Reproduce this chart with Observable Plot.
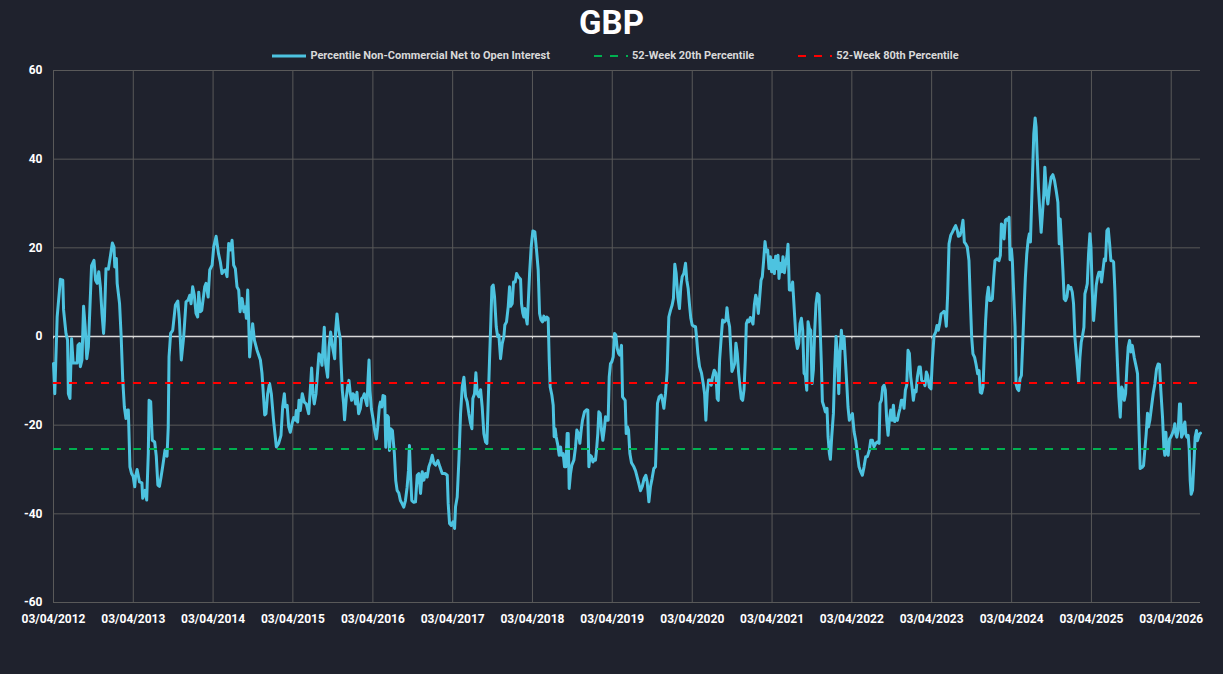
<!DOCTYPE html>
<html>
<head>
<meta charset="utf-8">
<script src="https://cdn.jsdelivr.net/npm/d3@7"></script>
<script src="https://cdn.jsdelivr.net/npm/@observablehq/plot@0.6"></script>
<style>
  html, body { margin: 0; padding: 0; background: #1f222d; }
  #wrap { position: relative; width: 1223px; height: 674px; background: #1f222d; overflow: hidden; font-family: Roboto, "Liberation Sans", sans-serif; }
  #title { position: absolute; top: 3px; left: 0; width: 1223px; text-align: center; color: #ffffff; font-weight: bold; font-size: 33px; line-height: 40px; }
  #legend { position: absolute; top: 48px; left: 0; width: 1223px; display: flex; justify-content: center; gap: 44px; color: #d9d9d9; font-weight: bold; font-size: 11px; line-height: 16px; padding-left: 8px; box-sizing: border-box; }
  .item { display: flex; align-items: center; gap: 4px; }
  #chart { position: absolute; top: 62px; left: 0; }
</style>
</head>
<body>
<div id="wrap">
  <div id="title"></div>
  <div id="legend"></div>
  <div id="chart"></div>
</div>
<script>
// ---- data ----
const chartTitle = "GBP";
const seriesNames = ["Percentile Non-Commercial Net to Open Interest", "52-Week 20th Percentile", "52-Week 80th Percentile"];
const seriesColors = ["#4dc3e0", "#00b050", "#ff0000"];
const tickLabels = ["03/04/2012","03/04/2013","03/04/2014","03/04/2015","03/04/2016","03/04/2017","03/04/2018","03/04/2019","03/04/2020","03/04/2021","03/04/2022","03/04/2023","03/04/2024","03/04/2025","03/04/2026"];
const yTicks = [-60, -40, -20, 0, 20, 40, 60];
const percentile20 = -25.4;
const percentile80 = -10.5;
// [decimal year, value]
const netToOI = [
[2012.254,-6.1],[2012.27,-12.9],[2012.30,4.4],[2012.34,12.9],[2012.37,12.7],[2012.38,6],[2012.41,0.7],[2012.43,-0.8],[2012.44,-12.9],[2012.46,-14],
[2012.48,-0.5],[2012.50,-6],[2012.55,-6],[2012.56,-2],[2012.58,-1.6],[2012.59,-6.8],[2012.61,-5.3],[2012.63,6.8],[2012.65,2.2],[2012.67,-5],
[2012.69,-2.3],[2012.73,16],[2012.76,17.2],[2012.78,12.7],[2012.80,12],[2012.82,14.6],[2012.84,11.2],[2012.86,5.2],[2012.88,0.7],[2012.89,3.7],
[2012.91,15.3],[2012.94,15.2],[2012.97,18.7],[2012.99,21.1],[2013.01,20.2],[2013.02,15.7],[2013.04,17.6],[2013.05,12],[2013.08,7.4],[2013.10,0],
[2013.12,-9.8],[2013.14,-15.9],[2013.16,-18.5],[2013.18,-16.6],[2013.19,-16.6],[2013.21,-29.4],[2013.23,-30.9],[2013.25,-31.5],[2013.27,-33.9],[2013.28,-31.6],
[2013.30,-30],[2013.33,-32.8],[2013.36,-33],[2013.37,-36.5],[2013.40,-34.7],[2013.42,-36.9],[2013.44,-26.4],[2013.45,-14.4],[2013.47,-14.7],[2013.49,-23.4],
[2013.52,-23.8],[2013.54,-27],[2013.56,-33.5],[2013.58,-33.8],[2013.60,-31.7],[2013.62,-29.4],[2013.65,-25.6],[2013.675,-27],[2013.69,-20.4],[2013.70,-4.6],
[2013.72,0.7],[2013.746,1.4],[2013.78,7.1],[2013.81,8],[2013.83,3.7],[2013.854,-5.3],[2013.884,0],[2013.913,7.8],[2013.938,8.2],[2013.96,9.3],
[2013.976,7.4],[2013.996,11.2],[2014.017,9.3],[2014.038,5.2],[2014.059,4.4],[2014.072,10],[2014.093,5.6],[2014.11,5.9],[2014.147,11.2],[2014.164,12],
[2014.19,8.9],[2014.21,15],[2014.24,16.1],[2014.26,20.2],[2014.29,22.6],[2014.32,18.7],[2014.343,16.8],[2014.364,14.2],[2014.385,14.8],[2014.406,15],
[2014.427,13.5],[2014.448,21],[2014.469,19.5],[2014.49,21.7],[2014.51,16.1],[2014.531,15.3],[2014.552,11.2],[2014.573,10.5],[2014.59,5.6],[2014.615,8.6],
[2014.64,5.6],[2014.656,6.7],[2014.669,4.1],[2014.686,10.5],[2014.698,3.7],[2014.71,-4.6],[2014.73,-0.8],[2014.748,2.9],[2014.77,-0.8],[2014.803,-3.1],
[2014.845,-5.3],[2014.865,-8.3],[2014.882,-12.9],[2014.899,-17.7],[2014.915,-17.4],[2014.936,-12.9],[2014.96,-10.6],[2014.982,-12.9],[2015.01,-18.9],[2015.045,-24.9],
[2015.074,-24.1],[2015.103,-22.3],[2015.124,-15.9],[2015.145,-12.9],[2015.158,-15.9],[2015.18,-15.5],[2015.2,-20.4],[2015.22,-21.6],[2015.241,-19.7],[2015.262,-18.3],
[2015.283,-18.9],[2015.295,-16.7],[2015.312,-19.3],[2015.329,-14.4],[2015.345,-16.7],[2015.37,-12.9],[2015.395,-14.8],[2015.42,-15.2],[2015.45,-17.4],[2015.47,-12.2],
[2015.487,-7.1],[2015.504,-12.9],[2015.52,-15.2],[2015.542,-12.9],[2015.563,-7.7],[2015.579,-3.9],[2015.596,-4.3],[2015.617,-6.5],[2015.63,-2.4],[2015.646,2.1],
[2015.663,-6.2],[2015.688,-9.2],[2015.705,-2.4],[2015.725,1],[2015.746,-2],[2015.776,-5],[2015.788,1.4],[2015.805,5.1],[2015.826,1.4],[2015.847,-0.5],
[2015.855,-5.4],[2015.872,-12.2],[2015.888,-15.2],[2015.9,-18.8],[2015.922,-13.7],[2015.938,-11.4],[2015.955,-9.9],[2015.972,-12.9],[2015.989,-14.4],[2016.005,-12.9],
[2016.022,-13.3],[2016.039,-15.2],[2016.055,-12.6],[2016.076,-17.4],[2016.097,-16.3],[2016.114,-14],[2016.131,-13.7],[2016.147,-12.9],[2016.164,-14.4],[2016.181,-15.6],
[2016.193,-9.9],[2016.206,-5.3],[2016.218,-12.2],[2016.235,-16.3],[2016.256,-18.5],[2016.277,-21.2],[2016.298,-23.1],[2016.314,-20.5],[2016.335,-15.9],[2016.348,-14.8],
[2016.365,-15.9],[2016.381,-13.3],[2016.402,-13.5],[2016.415,-25],[2016.432,-17.8],[2016.448,-18.2],[2016.461,-25.7],[2016.477,-20.8],[2016.498,-21.2],[2016.523,-26.5],
[2016.54,-32.5],[2016.557,-34.7],[2016.578,-35.3],[2016.598,-37],[2016.619,-37.7],[2016.64,-38.5],[2016.661,-37],[2016.682,-34],[2016.699,-30.2],[2016.711,-24.6],
[2016.724,-30.9],[2016.74,-37],[2016.766,-37.4],[2016.787,-37.3],[2016.808,-31.3],[2016.829,-30.9],[2016.85,-35.4],[2016.871,-30.5],[2016.891,-32.4],[2016.912,-30.9],
[2016.933,-31.7],[2016.954,-29.4],[2016.975,-28.3],[2016.996,-26.8],[2017.017,-28.6],[2017.038,-29],[2017.067,-28],[2017.092,-29.4],[2017.121,-30.9],[2017.155,-30.9],
[2017.184,-31.3],[2017.196,-37.7],[2017.213,-42.2],[2017.234,-42.6],[2017.255,-41.8],[2017.276,-43.3],[2017.288,-38.4],[2017.309,-36.2],[2017.33,-27.9],[2017.351,-17.4],
[2017.372,-11.4],[2017.393,-9.2],[2017.414,-13.6],[2017.434,-14.7],[2017.455,-17.4],[2017.476,-19.6],[2017.493,-20.8],[2017.505,-14],[2017.526,-12.9],[2017.543,-8.2],
[2017.56,-12.9],[2017.581,-13.6],[2017.602,-12],[2017.622,-15.9],[2017.643,-21.9],[2017.664,-23.8],[2017.681,-24.1],[2017.698,-14.4],[2017.714,-5.3],[2017.731,3.7],
[2017.744,11.2],[2017.76,11.6],[2017.777,8.9],[2017.798,2.2],[2017.815,0],[2017.831,0.3],[2017.852,-5],[2017.873,-1.6],[2017.894,0],[2017.906,2.6],
[2017.927,3.3],[2017.948,6.7],[2017.965,11.2],[2017.977,6.8],[2017.998,7.4],[2018.015,12.3],[2018.036,12.3],[2018.053,14.2],[2018.074,13.5],[2018.103,12.9],
[2018.115,7.4],[2018.132,5.2],[2018.145,4.4],[2018.157,6.3],[2018.17,4.4],[2018.186,2.8],[2018.199,7.4],[2018.216,14.2],[2018.236,20.2],[2018.257,23.8],
[2018.282,23.6],[2018.303,19.5],[2018.324,15],[2018.341,5.2],[2018.358,3.8],[2018.378,3.3],[2018.395,4.6],[2018.411,3.7],[2018.432,4.4],[2018.449,4.1],
[2018.462,-5.3],[2018.474,-11.4],[2018.495,-13.2],[2018.512,-15.5],[2018.524,-22.6],[2018.537,-20.8],[2018.549,-22.6],[2018.57,-24.5],[2018.587,-26.8],[2018.604,-24.9],
[2018.616,-26.8],[2018.637,-26.4],[2018.654,-29.4],[2018.67,-29.4],[2018.687,-21.9],[2018.7,-21.9],[2018.712,-34.3],[2018.729,-30.9],[2018.746,-29],[2018.771,-27.9],
[2018.792,-24.9],[2018.808,-21.1],[2018.829,-21.9],[2018.846,-24.1],[2018.863,-21.1],[2018.879,-18.9],[2018.904,-17],[2018.93,-16.5],[2018.946,-16.6],[2018.959,-29.4],
[2018.975,-26.8],[2018.992,-27.1],[2019.009,-28.3],[2019.026,-27.7],[2019.042,-27.9],[2019.055,-25.6],[2019.071,-21.9],[2019.084,-17],[2019.101,-17.4],[2019.117,-21.1],
[2019.134,-23.4],[2019.151,-21.1],[2019.168,-18.1],[2019.184,-18.9],[2019.201,-18.9],[2019.214,-9.1],[2019.23,-6.1],[2019.247,-5.7],[2019.264,-4.6],[2019.281,0.7],
[2019.297,0.3],[2019.314,-2.7],[2019.331,-3.8],[2019.347,-4.2],[2019.368,-2],[2019.381,-13.6],[2019.397,-14],[2019.414,-14.4],[2019.427,-21.9],[2019.443,-20.4],
[2019.456,-21.1],[2019.473,-26.4],[2019.493,-28.5],[2019.523,-29.4],[2019.544,-30.3],[2019.564,-31.7],[2019.585,-33.2],[2019.606,-34.8],[2019.627,-33.9],[2019.652,-32],
[2019.673,-31.3],[2019.69,-32.8],[2019.711,-37.3],[2019.731,-33.9],[2019.752,-32],[2019.773,-29.8],[2019.794,-29.4],[2019.807,-22.6],[2019.819,-15.1],[2019.84,-13.6],
[2019.865,-13.2],[2019.882,-14.4],[2019.899,-16.2],[2019.919,-12.9],[2019.94,-8],[2019.961,4.4],[2019.982,5.9],[2020.003,7.1],[2020.019,8.6],[2020.036,16.3],
[2020.053,14.2],[2020.074,8.9],[2020.094,6.3],[2020.111,11.2],[2020.128,13.5],[2020.149,14.2],[2020.17,16.5],[2020.186,12.7],[2020.203,10.8],[2020.22,7.1],
[2020.236,4.1],[2020.253,2.6],[2020.274,2.3],[2020.295,2.2],[2020.307,0],[2020.324,-3.8],[2020.345,-6.8],[2020.37,-8.3],[2020.391,-10.6],[2020.408,-12.9],
[2020.424,-18.9],[2020.441,-12.9],[2020.458,-9.8],[2020.475,-9.8],[2020.491,-11],[2020.508,-9.1],[2020.529,-7.6],[2020.55,-8.3],[2020.566,-14],[2020.579,-14.4],
[2020.596,-5.3],[2020.617,0],[2020.633,3.7],[2020.654,3.3],[2020.675,3.7],[2020.688,6.5],[2020.704,3.7],[2020.721,2.2],[2020.738,-3.8],[2020.75,-7.9],
[2020.767,-7.1],[2020.784,-6.1],[2020.8,-1.5],[2020.817,-3.8],[2020.834,-8.3],[2020.851,-11.4],[2020.867,-14],[2020.884,-14.4],[2020.901,-12],[2020.917,-5.3],
[2020.93,2.9],[2020.947,3.7],[2020.963,3.3],[2020.98,4.3],[2020.997,3.7],[2021.013,2.8],[2021.03,7.1],[2021.047,9.3],[2021.064,8.2],[2021.08,5.2],
[2021.097,8.9],[2021.114,12.7],[2021.13,13.5],[2021.147,17.2],[2021.164,21.4],[2021.18,19.1],[2021.197,19.5],[2021.214,15.3],[2021.231,18],[2021.247,14.6],
[2021.264,17.2],[2021.281,14.2],[2021.297,18.1],[2021.314,15.3],[2021.327,18.3],[2021.339,13.1],[2021.356,16.5],[2021.373,14.6],[2021.389,18],[2021.406,14.4],
[2021.423,16.5],[2021.44,18.3],[2021.452,20.8],[2021.469,10.5],[2021.49,10.5],[2021.51,12.3],[2021.536,4.4],[2021.553,-0.8],[2021.57,-2.7],[2021.586,-1.6],
[2021.603,2.9],[2021.62,4.1],[2021.636,1.5],[2021.653,-8.3],[2021.67,-8.7],[2021.687,-12.1],[2021.703,3.3],[2021.72,1.8],[2021.737,1.4],[2021.753,-10.6],
[2021.77,-7.6],[2021.787,1.4],[2021.803,7.4],[2021.82,9.7],[2021.841,9.3],[2021.854,2.3],[2021.87,-6.1],[2021.883,-14.7],[2021.904,-15.9],[2021.92,-17],
[2021.941,-16.2],[2021.954,-22.6],[2021.971,-26.4],[2021.983,-27.7],[2022.0,-22.6],[2022.021,-17.4],[2022.037,-7.5],[2022.054,0],[2022.071,-3.8],[2022.088,-12.9],
[2022.104,-3.8],[2022.121,1.4],[2022.138,-2.7],[2022.154,0],[2022.171,-5.3],[2022.188,-10.5],[2022.204,-15.9],[2022.221,-18.9],[2022.238,-18.1],[2022.259,-17.4],
[2022.28,-21.5],[2022.3,-23.4],[2022.321,-26.4],[2022.342,-29.4],[2022.363,-30.5],[2022.384,-31.3],[2022.405,-29.4],[2022.426,-27.1],[2022.447,-27.1],[2022.472,-25.6],
[2022.489,-23.4],[2022.509,-23.4],[2022.53,-24.9],[2022.551,-24.1],[2022.572,-23.8],[2022.593,-24.1],[2022.605,-15.1],[2022.622,-14.4],[2022.639,-11.4],[2022.656,-11],
[2022.672,-12.1],[2022.689,-18.9],[2022.706,-22.3],[2022.722,-18.9],[2022.739,-16.6],[2022.756,-18.9],[2022.773,-15.5],[2022.789,-19.2],[2022.806,-18.5],[2022.823,-18.9],
[2022.839,-17.4],[2022.856,-16.2],[2022.873,-14.4],[2022.89,-14.4],[2022.906,-16.2],[2022.923,-12.1],[2022.94,-11],[2022.956,-3.1],[2022.973,-3.8],[2022.99,-9.1],
[2023.006,-11.4],[2023.023,-14.4],[2023.04,-12.1],[2023.057,-12.5],[2023.073,-9.2],[2023.094,-6.9],[2023.11,-6.9],[2023.127,-9.9],[2023.156,-10.3],[2023.169,-11.1],
[2023.186,-8],[2023.202,-8.8],[2023.223,-11.4],[2023.244,-11.8],[2023.261,-5.4],[2023.282,0.2],[2023.303,1],[2023.319,2.5],[2023.336,1.4],[2023.353,2.9],
[2023.37,5.1],[2023.386,5.3],[2023.407,5.7],[2023.42,5.1],[2023.436,2.3],[2023.453,9.6],[2023.47,20.9],[2023.491,22.8],[2023.511,23.5],[2023.532,24.3],
[2023.553,25],[2023.574,23.9],[2023.587,22.6],[2023.608,22.8],[2023.624,23.9],[2023.645,26.2],[2023.662,21.3],[2023.679,20.9],[2023.699,20.2],[2023.72,17.1],
[2023.737,8.1],[2023.754,-0.2],[2023.77,-3.9],[2023.791,-4.7],[2023.808,-6.2],[2023.829,-8.4],[2023.846,-7.7],[2023.862,-12.6],[2023.879,-12.8],[2023.896,-11.4],
[2023.912,-3.9],[2023.929,3.6],[2023.946,8.9],[2023.963,11.1],[2023.98,8.1],[2023.996,8.1],[2024.013,8.5],[2024.03,13.4],[2024.046,17.1],[2024.071,17.5],
[2024.096,17.1],[2024.113,18.3],[2024.126,25.4],[2024.142,25],[2024.159,22],[2024.176,26.2],[2024.192,26.5],[2024.209,26.2],[2024.222,26.9],[2024.234,17.3],
[2024.251,19.8],[2024.263,17.1],[2024.28,9.6],[2024.297,2.1],[2024.309,-10.7],[2024.326,-11.8],[2024.343,-12.2],[2024.359,-9.5],[2024.376,-8.8],[2024.393,-1.3],
[2024.41,6.6],[2024.426,13.4],[2024.443,18.6],[2024.46,21.7],[2024.476,23.2],[2024.489,21.3],[2024.501,28.4],[2024.514,35.9],[2024.531,45.7],[2024.548,49.3],
[2024.56,47.2],[2024.572,41.2],[2024.589,33.7],[2024.606,28.4],[2024.623,23.5],[2024.639,27.7],[2024.656,32.2],[2024.669,38.2],[2024.69,32.2],[2024.707,29.9],
[2024.728,33.7],[2024.748,35.9],[2024.769,36.5],[2024.79,35.2],[2024.811,32.9],[2024.832,30.3],[2024.849,20.9],[2024.861,26.5],[2024.878,20.9],[2024.895,14.9],
[2024.911,8.5],[2024.928,8.1],[2024.945,8.9],[2024.962,11.5],[2024.978,10.8],[2024.995,11.1],[2025.012,10],[2025.028,7.4],[2025.045,-0.2],[2025.062,-3.9],
[2025.078,-7.3],[2025.091,-10.3],[2025.108,-4.7],[2025.124,-1.3],[2025.141,0.2],[2025.158,2.1],[2025.17,9.6],[2025.187,10.8],[2025.2,11.9],[2025.216,18.6],
[2025.233,23.2],[2025.246,20.2],[2025.262,10.4],[2025.279,3.6],[2025.296,7.4],[2025.312,11.5],[2025.329,13.4],[2025.346,14.5],[2025.363,14.5],[2025.379,12.3],
[2025.396,14.9],[2025.413,17.5],[2025.429,17.1],[2025.446,23.9],[2025.463,24.3],[2025.48,20.9],[2025.496,17.1],[2025.513,17.1],[2025.53,16.8],[2025.546,10.4],
[2025.563,0.6],[2025.58,-6.9],[2025.596,-13.7],[2025.613,-18.2],[2025.63,-11.4],[2025.647,-12.2],[2025.663,-14.4],[2025.68,-12.9],[2025.697,-6.9],[2025.713,-2.4],
[2025.73,-0.9],[2025.747,-3.5],[2025.764,-2],[2025.788,-4.7],[2025.814,-6.9],[2025.83,-8.4],[2025.846,-19.7],[2025.863,-29.8],[2025.888,-29.5],[2025.905,-29.1],
[2025.921,-25.7],[2025.938,-22],[2025.955,-17.3],[2025.967,-20.4],[2025.984,-18.9],[2026.005,-15.9],[2026.026,-12.9],[2026.047,-10.7],[2026.068,-7.3],[2026.088,-6.2],
[2026.105,-6.3],[2026.122,-12.2],[2026.143,-18.2],[2026.16,-25],[2026.172,-26.8],[2026.185,-21.6],[2026.197,-25.7],[2026.214,-26.8],[2026.231,-23.1],[2026.247,-22.7],
[2026.264,-22],[2026.281,-21.2],[2026.297,-19.7],[2026.31,-22],[2026.322,-22.7],[2026.339,-21.2],[2026.356,-15.2],[2026.368,-15.2],[2026.381,-22.7],[2026.397,-22],
[2026.41,-20.1],[2026.423,-19.3],[2026.435,-22],[2026.448,-22.7],[2026.465,-22.3],[2026.477,-25.3],[2026.49,-32.5],[2026.502,-35.6],[2026.519,-34.7],[2026.536,-28.7],
[2026.552,-22.7],[2026.569,-21.2],[2026.581,-23.5],[2026.594,-22.7],[2026.606,-22],[2026.619,-21.8]
];

// ---- helpers ----
function yearToDate(t) {
  const y = Math.floor(t);
  const s = Date.UTC(y, 0, 1), e = Date.UTC(y + 1, 0, 1);
  return new Date(s + (t - y) * (e - s));
}
function parseDMY(s) {
  const [d, m, y] = s.split("/").map(Number);
  return new Date(Date.UTC(y, m - 1, d));
}
const data = netToOI.map(([t, v]) => ({date: yearToDate(t), value: v}));
const tickDates = tickLabels.map(parseDMY);
const labelByTime = new Map(tickDates.map((d, i) => [+d, tickLabels[i]]));
const xDomain = [tickDates[0], data[data.length - 1].date];

// ---- title & legend ----
document.getElementById("title").textContent = chartTitle;
const legend = document.getElementById("legend");
seriesNames.forEach((name, i) => {
  const item = document.createElement("div");
  item.className = "item";
  const dash = i === 0 ? "" : ' stroke-dasharray="8,8"';
  const sw = i === 0 ? 3 : 2;
  item.innerHTML = `<svg width="34" height="10"><line x1="0" y1="5" x2="34" y2="5" stroke="${seriesColors[i]}" stroke-width="${sw}"${dash}/></svg><span>${name}</span>`;
  legend.appendChild(item);
});

// ---- chart ----
const grid = "#595959";
const chart = Plot.plot({
  width: 1223,
  height: 570,
  marginLeft: 53,
  marginRight: 23,
  marginTop: 8,
  marginBottom: 30,
  style: {background: "transparent", color: "#ffffff", fontFamily: "Roboto, 'Liberation Sans', sans-serif", fontSize: "12px", fontWeight: "bold"},
  x: {type: "utc", domain: xDomain, label: null},
  y: {domain: [-60, 60], label: null},
  marks: [
    Plot.ruleY(yTicks.filter(d => d !== 0), {stroke: grid, strokeWidth: 1}),
    Plot.ruleX(tickDates, {stroke: grid, strokeWidth: 1}),
    Plot.ruleY([0], {stroke: "#d9d9d9", strokeWidth: 1.3}),
    Plot.ruleX(tickDates, {x: d => d, y1: 0, y2: -0.55, stroke: "#d9d9d9", strokeWidth: 1}),
    Plot.line(data, {x: "date", y: "value", stroke: seriesColors[0], strokeWidth: 3, strokeLinejoin: "round", strokeLinecap: "round"}),
    Plot.ruleY([percentile20], {stroke: seriesColors[1], strokeWidth: 2, strokeDasharray: "8,8"}),
    Plot.ruleY([percentile80], {stroke: seriesColors[2], strokeWidth: 2, strokeDasharray: "8,8"}),
    Plot.axisY({ticks: yTicks, tickSize: 0, tickPadding: 11, tickFormat: d => String(d), label: null}),
    Plot.axisX({ticks: tickDates, tickSize: 0, tickPadding: 12, tickFormat: d => labelByTime.get(+d), label: null})
  ]
});
document.getElementById("chart").appendChild(chart);
</script>
</body>
</html>
